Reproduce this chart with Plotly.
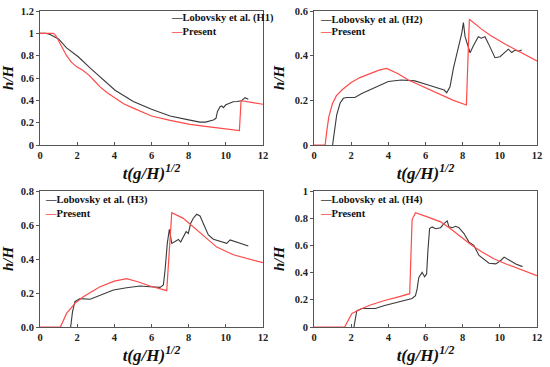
import plotly.graph_objects as go

# ---------------- data ----------------
# Panel 1 (H1)
t_exp1 = [0, 0.3, 0.54, 0.8, 1.0, 1.43, 2.06, 2.69, 3.23, 4.04, 5.02, 6.0, 7.0, 7.5, 8.0, 8.6, 8.9,
          9.33, 9.47, 9.55, 9.69, 9.78, 9.87, 10.0, 10.23, 10.4, 10.6, 10.85, 11.03, 11.21]
h_exp1 = [1.0, 1.0, 0.99, 0.97, 0.95, 0.87, 0.79, 0.69, 0.61, 0.49, 0.39, 0.32, 0.26, 0.24, 0.225, 0.205, 0.205,
          0.224, 0.239, 0.30, 0.343, 0.35, 0.335, 0.36, 0.379, 0.387, 0.39, 0.397, 0.424, 0.409]
t_pre1 = [0, 0.5, 0.72, 0.85, 1.0, 1.2, 1.43, 1.7, 1.97, 2.3, 2.6, 2.9, 3.23, 3.6, 4.04, 4.5, 5.02,
          6.0, 7.0, 8.07, 9.0, 10.0, 10.73, 10.82, 11.4, 12.0]
h_pre1 = [1.0, 1.0, 1.0, 0.98, 0.93, 0.87, 0.8, 0.74, 0.70, 0.67, 0.63, 0.58, 0.52, 0.47, 0.42, 0.37, 0.33,
          0.26, 0.22, 0.185, 0.165, 0.145, 0.13, 0.397, 0.38, 0.365]

# Panel 2 (H2)
t_exp2 = [1.0, 1.13, 1.22, 1.4, 1.58, 1.76, 2.2, 2.57, 3.28, 4.0, 4.7, 5.43, 6.15, 6.69, 7.0, 7.14, 7.32,
          7.5, 7.68, 7.86, 7.95, 8.04, 8.13, 8.3, 8.4, 8.57, 8.84, 9.0, 9.2, 9.38, 9.56, 9.74, 10.01,
          10.28, 10.46, 10.64, 10.82, 11.0, 11.18]
h_exp2 = [0, 0.097, 0.134, 0.187, 0.209, 0.213, 0.213, 0.231, 0.258, 0.284, 0.291, 0.287, 0.269, 0.254,
          0.246, 0.234, 0.261, 0.343, 0.41, 0.463, 0.50, 0.548, 0.485, 0.44, 0.413, 0.443, 0.485, 0.478,
          0.485, 0.455, 0.425, 0.391, 0.395, 0.418, 0.429, 0.414, 0.425, 0.42, 0.425]
t_pre2 = [0, 0.6, 0.7, 0.8, 1.0, 1.2, 1.5, 2.0, 2.5, 3.0, 3.5, 3.9, 4.5, 5.08, 6.0, 6.87, 7.5, 8.2,
          8.36, 9.0, 9.5, 10.37, 11.0, 12.0]
h_pre2 = [0, 0, 0.07, 0.127, 0.187, 0.22, 0.246, 0.28, 0.303, 0.32, 0.335, 0.343, 0.32, 0.291, 0.255,
          0.224, 0.20, 0.179, 0.563, 0.52, 0.49, 0.448, 0.42, 0.376]

# Panel 3 (H3)
t_exp3 = [1.65, 1.75, 1.88, 2.15, 2.7, 3.23, 3.95, 4.66, 5.38, 5.92, 6.46, 6.64, 6.73, 6.85, 6.96, 7.09,
          7.27, 7.45, 7.57, 7.71, 7.86, 7.98, 8.11, 8.25, 8.43, 8.61, 8.79, 9.06, 9.33, 9.69, 10.05,
          10.23, 10.5, 10.76, 11.21]
h_exp3 = [0, 0.09, 0.149, 0.167, 0.163, 0.188, 0.218, 0.231, 0.241, 0.237, 0.233, 0.247, 0.335, 0.492,
          0.575, 0.492, 0.502, 0.515, 0.5, 0.531, 0.561, 0.55, 0.61, 0.64, 0.663, 0.653, 0.61, 0.541,
          0.516, 0.502, 0.492, 0.512, 0.502, 0.492, 0.476]
t_pre3 = [0, 1.1, 1.43, 1.88, 2.33, 2.8, 3.23, 4.0, 4.66, 5.3, 5.92, 6.82, 7.09, 7.71, 8.61, 9.51,
          10.4, 11.2, 12.0]
h_pre3 = [0, 0, 0.08, 0.139, 0.178, 0.21, 0.237, 0.27, 0.285, 0.265, 0.241, 0.214, 0.672, 0.639,
          0.555, 0.47, 0.425, 0.40, 0.378]

# Panel 4 (H4)
t_exp4 = [2.15, 2.25, 2.3, 2.58, 3.3, 3.75, 4.65, 5.1, 5.28, 5.46, 5.55, 5.64, 5.82, 5.95, 6.06, 6.13,
          6.22, 6.36, 6.54, 6.81, 6.99, 7.17, 7.26, 7.44, 7.62, 7.8, 8.07, 8.34, 8.6, 8.88, 9.42, 9.78,
          10.05, 10.23, 10.5, 10.86, 11.22]
h_exp4 = [0, 0.08, 0.118, 0.136, 0.136, 0.156, 0.19, 0.205, 0.21, 0.23, 0.28, 0.365, 0.402, 0.37, 0.39,
          0.563, 0.723, 0.736, 0.723, 0.73, 0.76, 0.78, 0.736, 0.73, 0.74, 0.73, 0.687, 0.624, 0.6,
          0.526, 0.469, 0.464, 0.489, 0.514, 0.494, 0.464, 0.444]
t_pre4 = [0, 1.65, 2.04, 2.49, 3.0, 3.75, 4.5, 5.1, 5.15, 5.28, 5.46, 6.1, 6.81, 7.35, 8.0, 8.5, 9.0,
          9.7, 10.4, 11.2, 12.0]
h_pre4 = [0, 0, 0.10, 0.131, 0.16, 0.193, 0.22, 0.242, 0.245, 0.79, 0.84, 0.81, 0.773, 0.723, 0.655,
          0.6, 0.555, 0.50, 0.46, 0.42, 0.378]

exp_names = ["Lobovsky et al. (H1)", "Lobovsky et al. (H2)", "Lobovsky et al. (H3)", "Lobovsky et al. (H4)"]
pre_name = "Present"
y_ranges = [[0, 1.2], [0, 0.6], [0, 0.8], [0, 1.0]]
y_formats = ["", "", ".1f", ""]
x_ticks = [0, 2, 4, 6, 8, 10, 12]

# ---------------- styling / layout ----------------
W, H = 550, 367
BLACK = "#3a3a3a"
RED = "#ff4a4a"
FONT = "Liberation Serif"

# panel pixel boxes: (left, right, top, bottom)
boxes = [(40, 263, 11, 145), (314, 537, 11, 145), (40, 263, 191, 327), (314, 537, 191, 327)]
legend_pos = [(169, 18, 32), (318, 20, 32), (43, 200, 213), (318, 200, 213)]

exp_t = [t_exp1, t_exp2, t_exp3, t_exp4]
exp_h = [h_exp1, h_exp2, h_exp3, h_exp4]
pre_t = [t_pre1, t_pre2, t_pre3, t_pre4]
pre_h = [h_pre1, h_pre2, h_pre3, h_pre4]

fig = go.Figure()
annotations = []
layout = {}
for i in range(4):
    xa = "x" if i == 0 else f"x{i+1}"
    ya = "y" if i == 0 else f"y{i+1}"
    fig.add_trace(go.Scatter(x=exp_t[i], y=exp_h[i], mode="lines", name=exp_names[i],
                             line=dict(color=BLACK, width=1.1), xaxis=xa, yaxis=ya, showlegend=False))
    fig.add_trace(go.Scatter(x=pre_t[i], y=pre_h[i], mode="lines", name=pre_name,
                             line=dict(color=RED, width=1.2), xaxis=xa, yaxis=ya, showlegend=False))
    l, r, t, b = boxes[i]
    xkey = "xaxis" if i == 0 else f"xaxis{i+1}"
    ykey = "yaxis" if i == 0 else f"yaxis{i+1}"
    layout[xkey] = dict(
        domain=[l / W, r / W], anchor=ya, range=[0, 12], tickvals=x_ticks,
        showgrid=False, zeroline=False, showline=True, mirror=True, linecolor="#555", linewidth=1,
        ticks="inside", ticklen=3, tickcolor="#555",
        tickfont=dict(family=FONT, size=10.5, color="#222", weight="bold"),
        title=dict(text="t(g/H)<sup>1/2</sup>", standoff=2,
                   font=dict(family=FONT, size=17, color="#111", weight="bold", style="italic")),
        automargin=False, fixedrange=True)
    layout[ykey] = dict(
        domain=[(H - b) / H, (H - t) / H], anchor=xa, range=y_ranges[i], dtick=0.2,
        tickformat=y_formats[i],
        showgrid=False, zeroline=False, showline=True, mirror=True, linecolor="#555", linewidth=1,
        ticks="outside", ticklen=3, tickcolor="#555",
        tickfont=dict(family=FONT, size=10.5, color="#222", weight="bold"),
        title=dict(text="h/H", standoff=6,
                   font=dict(family=FONT, size=15, color="#111", weight="bold", style="italic")),
        automargin=False, fixedrange=True)
    lx, ly1, ly2 = legend_pos[i]
    annotations.append(dict(
        x=lx / W, y=1 - ly1 / H, xref="paper", yref="paper", xanchor="left", yanchor="middle",
        showarrow=False, align="left",
        text=f'<span style="color:{BLACK}">—</span>{exp_names[i]}',
        font=dict(family=FONT, size=10.5, color="#111", weight="bold")))
    annotations.append(dict(
        x=lx / W, y=1 - ly2 / H, xref="paper", yref="paper", xanchor="left", yanchor="middle",
        showarrow=False, align="left",
        text=f'<span style="color:{RED}">—</span>{pre_name}',
        font=dict(family=FONT, size=10.5, color="#111", weight="bold")))

fig.update_layout(
    width=W, height=H, margin=dict(l=0, r=0, t=0, b=0),
    paper_bgcolor="white", plot_bgcolor="white",
    annotations=annotations, showlegend=False, **layout)

fig.write_html("out.html", config={"displayModeBar": False, "staticPlot": True},
               post_script="document.body.style.margin='0';document.body.style.padding='0';")
